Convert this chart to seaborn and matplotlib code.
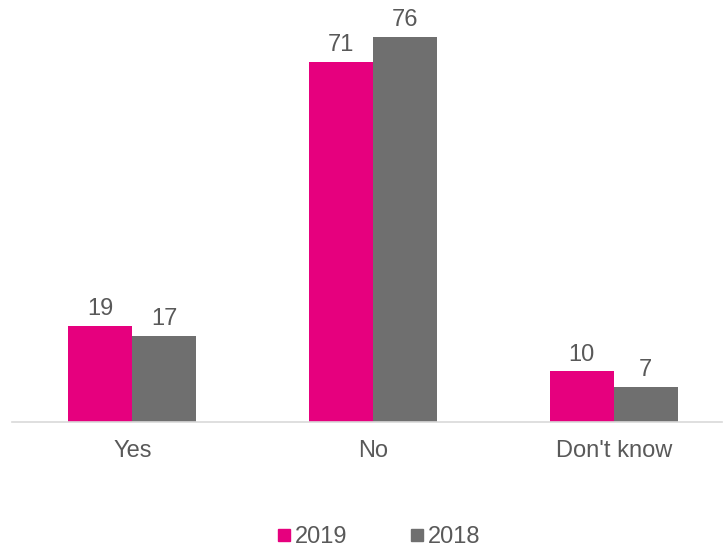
import matplotlib
matplotlib.use("Agg")
import matplotlib.pyplot as plt
from matplotlib.lines import Line2D
import seaborn as sns
import pandas as pd

categories = ["Yes", "No", "Don't know"]
years = ["2019", "2018"]
values_2019 = [19, 71, 10]
values_2018 = [17, 76, 7]

colors = {"2019": "#E6007E", "2018": "#6F6F6F"}
text_color = "#595959"

df = pd.DataFrame({
    "answer": categories * 2,
    "year": [years[0]] * len(categories) + [years[1]] * len(categories),
    "value": values_2019 + values_2018,
})

sns.set_theme(style="white")
plt.rcParams["font.family"] = ["Liberation Sans", "DejaVu Sans"]

fig = plt.figure(figsize=(7.23, 5.48), dpi=100)
ax = fig.add_axes([12 / 723, 126 / 548, 710 / 723, 405.6 / 548])

sns.barplot(data=df, x="answer", y="value", hue="year", order=categories,
            hue_order=years, palette=colors, width=0.532, gap=0,
            saturation=1, linewidth=0, ax=ax, legend=False)

for container in ax.containers:
    ax.bar_label(container, fmt="%g", padding=4, fontsize=17, color=text_color)

ax.set_xlim(-0.5, 2.45)
ax.set_ylim(0, 80)
ax.set_xlabel("")
ax.set_ylabel("")
ax.set_yticks([])
ax.tick_params(axis="x", length=0, pad=13, labelsize=17, labelcolor=text_color)
for side in ["left", "right", "top"]:
    ax.spines[side].set_visible(False)
ax.spines["bottom"].set_color("#D9D9D9")
ax.spines["bottom"].set_linewidth(1.2)

handles = [Line2D([], [], marker="s", linestyle="none", markersize=9,
                  markerfacecolor=colors[y], markeredgecolor=colors[y])
           for y in years]
fig.legend(handles, years, loc="center", bbox_to_anchor=(0.523, 11 / 548),
           ncol=2, frameon=False, fontsize=17, labelcolor=text_color,
           handletextpad=0.1, columnspacing=2.6, handlelength=0.7)

fig.savefig("out.png", dpi=100)
